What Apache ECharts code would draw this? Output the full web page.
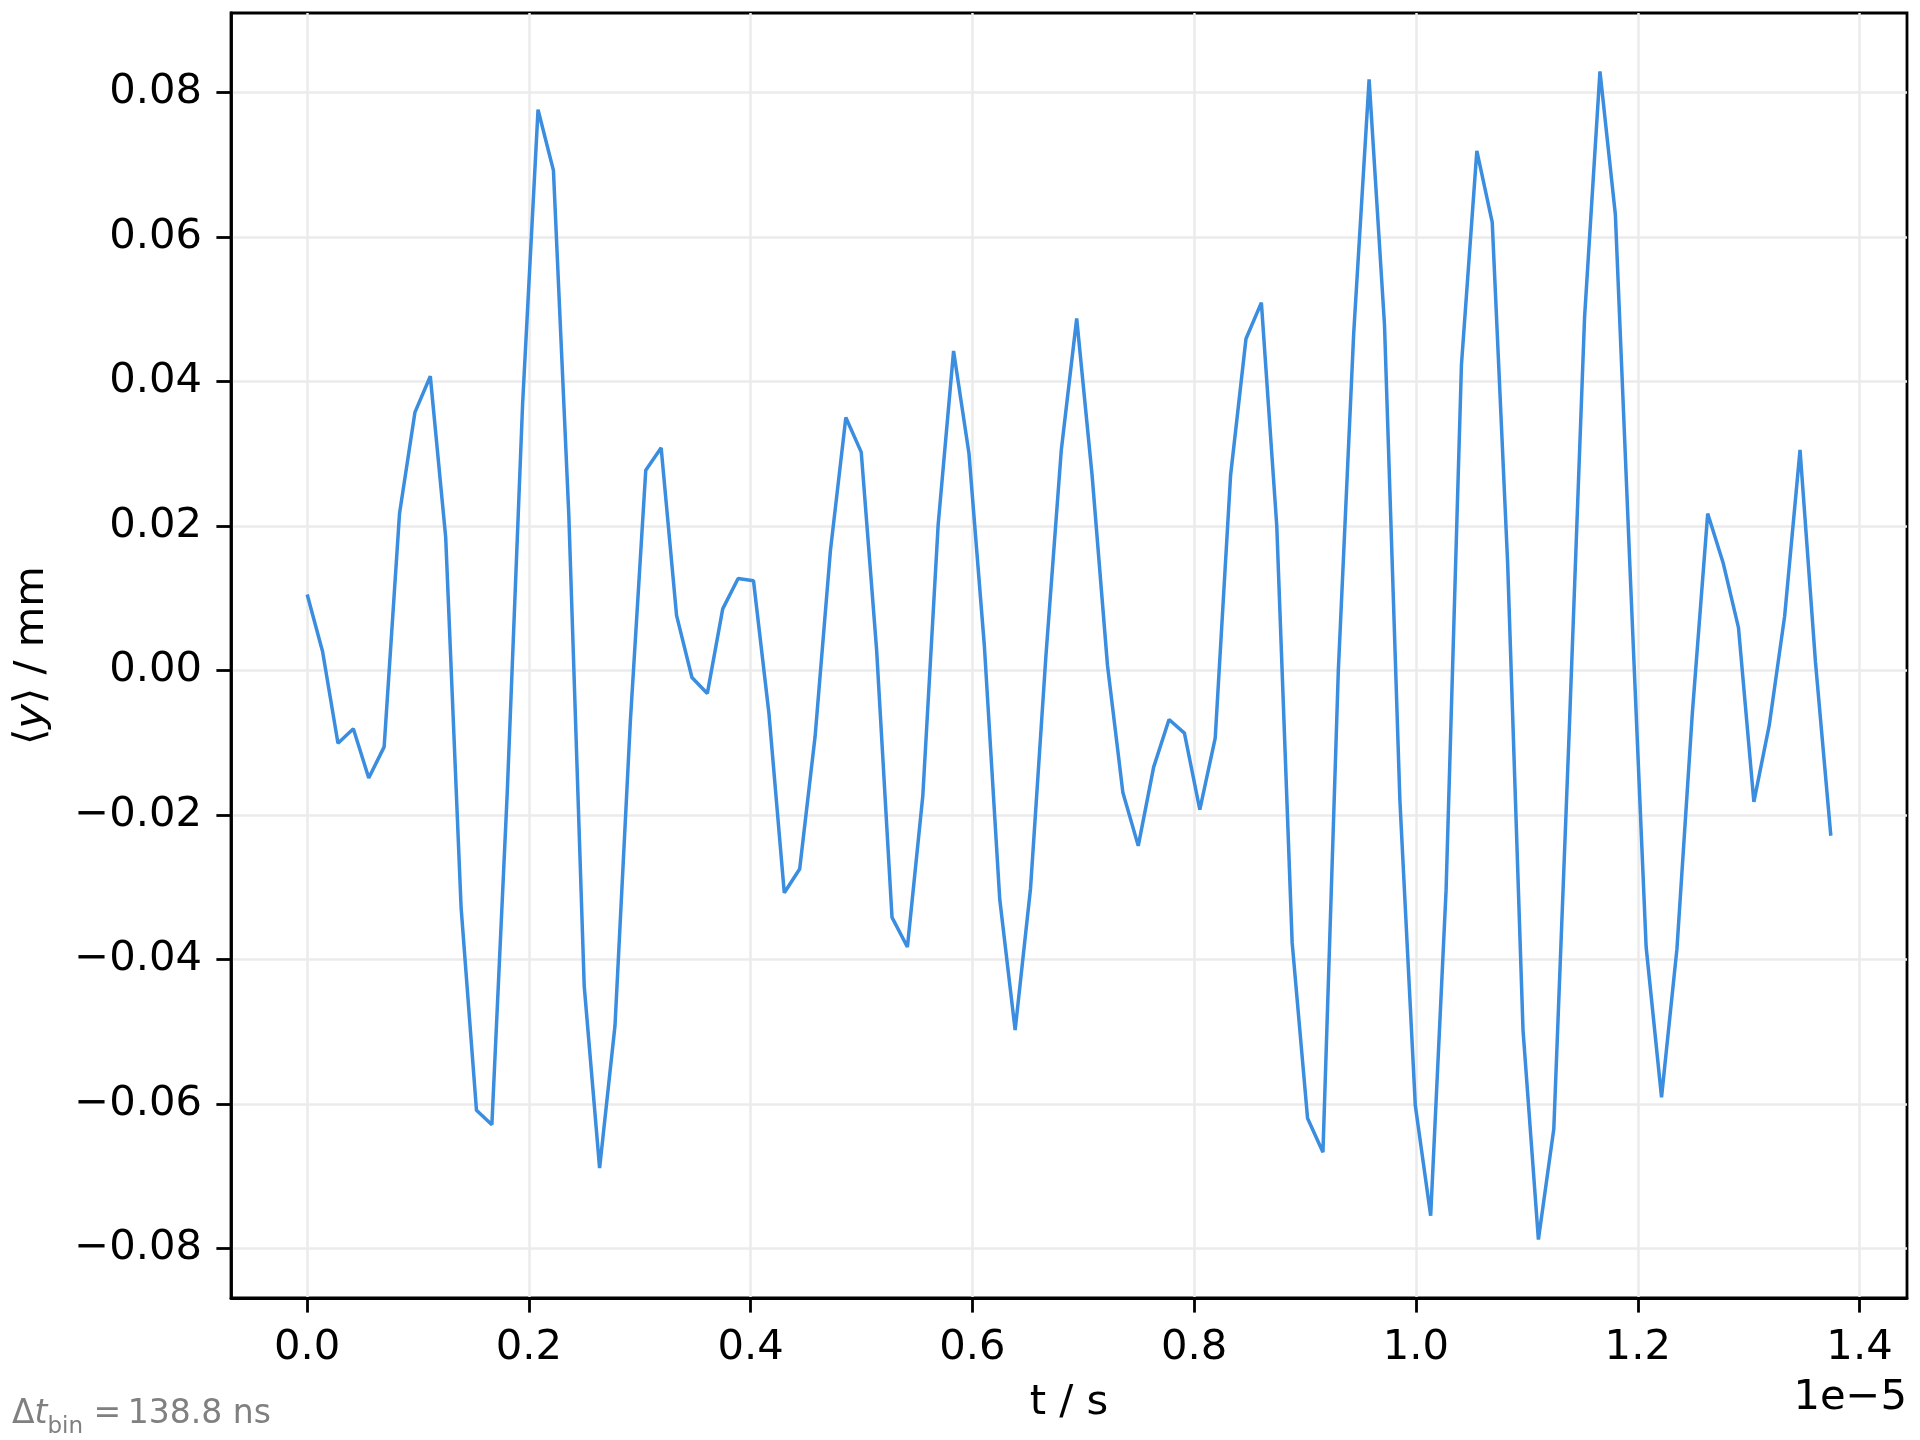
<!DOCTYPE html>
<html>
<head>
<meta charset="utf-8">
<script src="https://cdn.jsdelivr.net/npm/echarts@6/dist/echarts.min.js"></script>
<style>
html,body{margin:0;padding:0;background:#fff;}
#c{width:1920px;height:1440px;}
</style>
</head>
<body>
<div id="c"></div>
<script>
// bin width in seconds
const dtBin = 138.8e-9;
// mean y position per bin (mm)
const yMean = [
  0.0105, 0.0026, -0.0101, -0.0081, -0.0149, -0.0106, 0.0217, 0.0357, 0.0407, 0.0184,
  -0.0328, -0.0609, -0.0629, -0.0169, 0.0370, 0.0776, 0.0692, 0.0215, -0.0437, -0.0689,
  -0.0492, -0.0070, 0.0277, 0.0308, 0.0076, -0.0010, -0.0032, 0.0085, 0.0127, 0.0124,
  -0.0059, -0.0308, -0.0275, -0.0092, 0.0166, 0.0350, 0.0302, 0.0028, -0.0342, -0.0383,
  -0.0174, 0.0202, 0.0442, 0.0300, 0.0034, -0.0317, -0.0498, -0.0302, 0.0020, 0.0305,
  0.0487, 0.0270, 0.0007, -0.0169, -0.0243, -0.0134, -0.0068, -0.0087, -0.0193, -0.0094,
  0.0270, 0.0459, 0.0509, 0.0200, -0.0377, -0.0620, -0.0667, 0.0000, 0.0467, 0.0818,
  0.0478, -0.0180, -0.0602, -0.0755, -0.0305, 0.0423, 0.0719, 0.0620, 0.0149, -0.0498,
  -0.0788, -0.0635, -0.0085, 0.0489, 0.0829, 0.0631, 0.0116, -0.0383, -0.0591, -0.0386,
  -0.0060, 0.0217, 0.0149, 0.0059, -0.0182, -0.0076, 0.0075, 0.0305, 0.0012, -0.0229
];
// bin start times (s)
const tBins = yMean.map((_, i) => i * dtBin);
// axis ticks (x in units of 1e-5 s)
const xTicks = [0.0, 0.2, 0.4, 0.6, 0.8, 1.0, 1.2, 1.4];
const yTicks = [-0.08, -0.06, -0.04, -0.02, 0.00, 0.02, 0.04, 0.06, 0.08];
const xScale = 1e-5;

const FONT = 'DejaVu Sans';
const FS = 41.7;

const chart = echarts.init(document.getElementById('c'), null, {renderer: 'canvas'});

const seriesData = tBins.map((t, i) => [t / xScale, yMean[i]]);
const tMax = tBins[tBins.length - 1] / xScale;
const xPad = tMax * 0.05;
const yMin = Math.min(...yMean), yMax = Math.max(...yMean);
const yPad = (yMax - yMin) * 0.05;

chart.setOption({
  backgroundColor: '#ffffff',
  animation: false,
  grid: {
    left: 231, right: 13, top: 13, bottom: 142,
    show: true, borderColor: '#000', borderWidth: 2.8, backgroundColor: 'transparent'
  },
  xAxis: {
    type: 'value',
    position: 'bottom',
    min: -xPad, max: tMax + xPad,
    name: 't / s',
    nameLocation: 'middle',
    nameGap: 84,
    nameTextStyle: {fontFamily: FONT, fontSize: FS, color: '#000'},
    axisLine: {show: true, onZero: false, lineStyle: {color: '#000', width: 2.8}},
    axisTick: {show: true, inside: false, length: 14.6, lineStyle: {color: '#000', width: 2.8}, customValues: xTicks},
    axisLabel: {
      customValues: xTicks, margin: 29,
      fontFamily: FONT, fontSize: FS, color: '#000',
      formatter: v => v.toFixed(1)
    },
    splitLine: {show: true, lineStyle: {color: '#ebebeb', width: 2.5}}
  },
  yAxis: {
    type: 'value',
    position: 'left',
    min: yMin - yPad, max: yMax + yPad,
    name: '{a|⟨}{i|y}{a|⟩ / mm}',
    nameLocation: 'middle',
    nameRotate: 90,
    nameGap: 178,
    nameTextStyle: {
      fontFamily: FONT, fontSize: FS, color: '#000',
      rich: {
        a: {fontFamily: FONT, fontSize: FS, color: '#000'},
        i: {fontFamily: FONT, fontSize: FS, fontStyle: 'italic', color: '#000'}
      }
    },
    axisLine: {show: true, onZero: false, lineStyle: {color: '#000', width: 2.8}},
    axisTick: {show: true, inside: false, length: 14.6, lineStyle: {color: '#000', width: 2.8}, customValues: yTicks},
    axisLabel: {
      customValues: yTicks, margin: 29,
      fontFamily: FONT, fontSize: FS, color: '#000',
      formatter: v => v.toFixed(2).replace('-', '\u2212')
    },
    splitLine: {show: true, lineStyle: {color: '#ebebeb', width: 2.5}}
  },
  series: [{
    type: 'line',
    data: seriesData,
    showSymbol: false,
    symbol: 'none',
    lineStyle: {color: '#3a8ddf', width: 3.5},
    z: 3
  }],
  graphic: [
    {
      type: 'text', right: 13, top: 1377,
      style: {text: '1e\u22125', fontFamily: FONT, fontSize: FS, fill: '#000', textAlign: 'right'}
    },
    {
      type: 'text', left: 12, top: 1398,
      style: {
        text: '{a|Δ}{i|t}{s|bin}{a| =\u2009138.8 ns}',
        rich: {
          a: {fontFamily: FONT, fontSize: 33, fill: '#808080', verticalAlign: 'bottom'},
          i: {fontFamily: FONT, fontSize: 33, fontStyle: 'italic', fill: '#808080', verticalAlign: 'bottom'},
          s: {fontFamily: FONT, fontSize: 23, fill: '#808080', verticalAlign: 'bottom', padding: [0, 0, -8, 0]}
        }
      }
    }
  ]
});
</script>
</body>
</html>
